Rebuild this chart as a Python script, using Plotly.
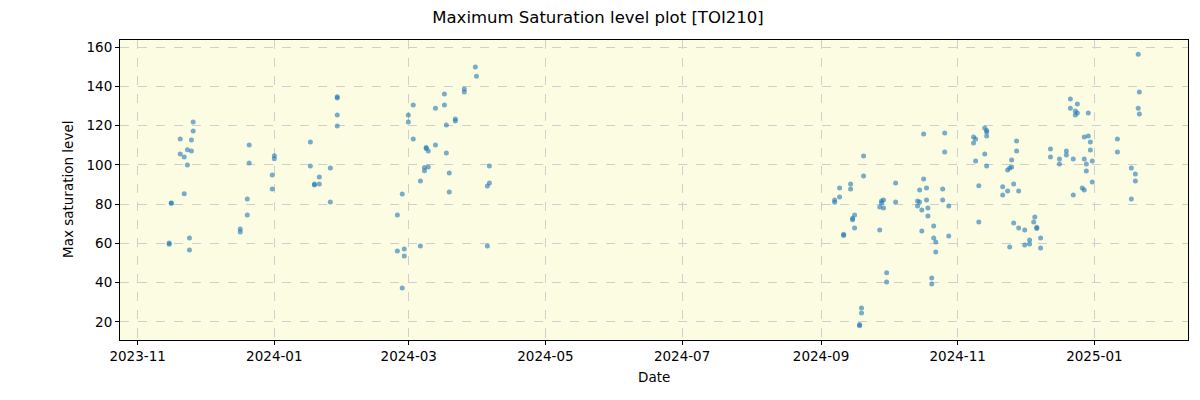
import plotly.graph_objects as go

# ---- data ----
dates_2023 = [
    "2023-11-25 19:00", "2023-11-25 19:00",
    "2023-11-20 00:00", "2023-11-20 00:00",
    "2023-11-25 00:00", "2023-11-25 00:00",
    "2023-11-23 05:00", "2023-11-23 05:00",
    "2023-11-21 19:00", "2023-11-21 19:00",
    "2023-11-16 00:00", "2023-11-16 00:00",
    "2023-11-24 03:00", "2023-11-24 03:00",
    "2023-11-15 02:00", "2023-11-15 02:00",
    "2023-12-20 19:00", "2023-12-20 19:00",
    "2023-12-19 22:00", "2023-12-19 22:00",
    "2023-12-16 19:00", "2023-12-16 19:00",
    "2024-01-01 00:00", "2024-01-01 00:00",
    "2023-12-31 02:00", "2023-12-31 02:00",
    "2024-01-17 02:00", "2024-01-17 02:00",
    "2024-01-21 02:00", "2024-01-21 02:00",
    "2024-01-18 22:00", "2024-01-18 22:00",
    "2024-01-26 00:00", "2024-01-26 00:00",
    "2024-01-29 02:00", "2024-01-29 02:00", "2024-01-29 02:00", "2024-01-29 02:00",
]
values_2023 = [
    121.8, 117.2,
    113.2, 105.5,
    112.7, 107.1,
    107.7, 99.9,
    104.0, 85.3,
    80.6, 80.4,
    62.8, 56.7,
    60.2, 59.6,
    110.1, 100.9,
    82.6, 74.5,
    67.3, 65.8,
    104.7, 103.1,
    94.8, 87.7,
    111.6, 99.4,
    93.8, 90.3,
    90.2, 89.8,
    98.4, 81.1,
    134.7, 134.0, 125.4, 119.8,
]

dates_2024a = [
    "2024-03-30 17:00", "2024-03-31 05:00",
    "2024-03-16 22:00", "2024-03-16 22:00",
    "2024-03-25 19:00", "2024-03-25 19:00",
    "2024-03-03 00:00", "2024-03-03 00:00",
    "2024-03-12 22:00", "2024-03-12 22:00",
    "2024-02-29 19:00", "2024-02-29 19:00",
    "2024-03-21 19:00", "2024-03-21 19:00",
    "2024-03-17 19:00", "2024-03-17 19:00",
    "2024-03-08 19:00", "2024-03-08 19:00",
    "2024-03-09 17:00", "2024-03-09 17:00",
    "2024-03-08 00:00", "2024-03-08 00:00",
    "2024-04-06 00:00", "2024-04-06 00:00",
    "2024-03-19 02:00", "2024-03-19 02:00",
    "2024-03-06 05:00", "2024-03-06 05:00",
    "2024-04-05 02:00", "2024-04-05 02:00",
    "2024-02-27 02:00", "2024-02-27 02:00",
    "2024-02-24 22:00", "2024-02-24 22:00",
    "2024-02-28 00:00", "2024-02-28 00:00",
]
values_2024a = [
    149.8, 145.2,
    136.1, 130.5,
    138.6, 137.1,
    130.5, 113.2,
    128.9, 110.1,
    125.4, 121.8,
    123.3, 122.3,
    120.3, 106.0,
    108.9, 108.4,
    107.1, 98.9,
    98.6, 97.0,
    99.4, 90.8,
    95.9, 86.2,
    91.8, 58.7,
    89.2, 58.7,
    85.2, 37.3,
    74.5, 56.1,
    57.2, 53.6,
]

dates_2024b = [
    "2024-10-16 19:00", "2024-10-16 19:00",
    "2024-10-26 05:00", "2024-10-26 05:00",
    "2024-09-20 00:00", "2024-09-20 00:00",
    "2024-10-04 07:00", "2024-10-04 07:00",
    "2024-09-14 05:00", "2024-09-14 05:00",
    "2024-09-09 07:00", "2024-09-09 07:00",
    "2024-10-18 02:00", "2024-10-18 02:00",
    "2024-10-15 00:00", "2024-10-15 00:00",
    "2024-10-25 07:00", "2024-10-25 07:00",
    "2024-09-07 02:00", "2024-09-07 02:00",
    "2024-09-28 22:00", "2024-09-28 22:00",
    "2024-09-28 00:00", "2024-09-28 00:00",
    "2024-09-27 05:00", "2024-09-27 05:00",
    "2024-10-14 02:00", "2024-10-14 02:00",
    "2024-10-28 00:00", "2024-10-28 00:00",
    "2024-10-16 00:00", "2024-10-16 00:00",
    "2024-10-18 17:00", "2024-10-18 17:00",
    "2024-09-16 00:00", "2024-09-16 00:00",
    "2024-09-15 02:00", "2024-09-15 02:00",
    "2024-10-21 07:00", "2024-10-21 07:00",
    "2024-09-11 02:00", "2024-09-11 02:00",
    "2024-10-22 05:00", "2024-10-22 05:00",
    "2024-09-30 07:00", "2024-09-30 07:00",
    "2024-10-20 10:00", "2024-10-20 10:00",
    "2024-09-19 02:00", "2024-09-19 02:00",
    "2024-09-18 05:00", "2024-09-18 05:00",
]
values_2024b = [
    115.7, 92.8,
    116.2, 106.5,
    104.5, 94.3,
    90.8, 81.1,
    90.3, 87.7,
    88.2, 83.6,
    88.2, 82.1,
    87.2, 81.1,
    87.7, 82.1,
    82.1, 80.9,
    82.1, 78.0,
    81.6, 80.6,
    78.5, 66.8,
    81.6, 79.1,
    79.1, 63.8,
    77.0, 66.3,
    78.0, 74.0,
    74.5, 67.9,
    72.8, 72.0,
    68.9, 62.8,
    64.6, 64.0,
    60.7, 55.6,
    45.0, 40.4,
    42.4, 39.3,
    27.1, 24.6,
    18.7, 18.0,
]

dates_2024c = [
    "2024-11-13 02:00", "2024-11-13 02:00",
    "2024-11-13 22:00", "2024-11-13 22:00", "2024-11-13 22:00", "2024-11-13 22:00",
    "2024-11-08 02:00", "2024-11-08 02:00",
    "2024-11-09 00:00", "2024-11-09 00:00",
    "2024-11-27 07:00", "2024-11-27 07:00",
    "2024-11-25 02:00", "2024-11-25 02:00",
    "2024-11-24 05:00", "2024-11-24 05:00",
    "2024-11-23 07:00", "2024-11-23 07:00",
    "2024-11-10 10:00", "2024-11-10 10:00",
    "2024-11-21 02:00", "2024-11-21 02:00",
    "2024-11-26 00:00", "2024-11-26 00:00",
    "2024-11-28 05:00", "2024-11-28 05:00",
    "2024-11-30 22:00", "2024-11-30 22:00",
    "2024-12-04 22:00", "2024-12-05 10:00",
    "2024-12-06 07:00", "2024-12-06 07:00",
    "2024-12-03 02:00", "2024-12-03 02:00",
    "2024-12-08 00:00", "2024-12-08 00:00",
]
values_2024c = [
    118.8, 105.5,
    117.5, 116.8, 114.7, 99.4,
    114.2, 111.1,
    113.2, 102.0,
    112.1, 107.1,
    102.5, 98.9,
    98.4, 58.2,
    97.4, 86.7,
    89.4, 70.9,
    88.9, 84.7,
    90.3, 70.4,
    86.7, 67.9,
    66.8, 59.2,
    70.9, 73.5,
    68.2, 67.6,
    61.7, 59.7,
    62.8, 57.7,
]

dates_2025 = [
    "2025-01-20 14:00", "2025-01-20 14:00",
    "2025-01-21 02:00", "2025-01-21 02:00",
    "2024-12-21 07:00", "2024-12-21 07:00",
    "2024-12-24 10:00", "2024-12-24 10:00",
    "2024-12-23 12:00", "2024-12-23 12:00",
    "2024-12-29 07:00", "2024-12-29 07:00",
    "2024-12-27 12:00", "2024-12-27 12:00", "2024-12-27 12:00",
    "2024-12-30 05:00", "2024-12-30 05:00",
    "2024-12-31 02:00", "2024-12-31 02:00",
    "2024-12-28 10:00", "2024-12-28 10:00",
    "2024-12-26 14:00",
    "2024-12-22 14:00", "2024-12-22 14:00",
    "2024-12-12 10:00", "2024-12-12 10:00",
    "2024-12-19 12:00", "2024-12-19 12:00",
    "2024-12-16 10:00", "2024-12-16 10:00",
    "2025-01-11 07:00", "2025-01-11 07:00",
    "2025-01-17 12:00", "2025-01-17 12:00",
    "2025-01-19 07:00", "2025-01-19 07:00",
]
values_2025 = [
    156.4, 128.9,
    137.1, 125.9,
    133.5, 128.9,
    131.0, 126.4,
    127.4, 125.4,
    126.4, 114.7,
    114.2, 103.0, 87.2,
    111.6, 107.6,
    102.0, 91.3,
    100.4, 96.9,
    88.2,
    84.7, 103.0,
    108.1, 104.0,
    107.1, 105.0,
    103.0, 100.4,
    113.2, 106.5,
    98.4, 82.6,
    95.3, 91.8,
]

dates = dates_2023 + dates_2024a + dates_2024b + dates_2024c + dates_2025
values = values_2023 + values_2024a + values_2024b + values_2024c + values_2025

title_text = "Maximum Saturation level plot [TOI210]"
x_label = "Date"
y_label = "Max saturation level"
y_ticks = [20, 40, 60, 80, 100, 120, 140, 160]

FONT = "DejaVu Sans, Liberation Sans, sans-serif"
TICK_SIZE = 13.5
TITLE_SIZE = 16.5

# the page body adds an 8px offset; the figure is sized to compensate
W, H = 1192, 392
ML, MR, MT, MB = 112, 12, 32, 60
PW, PH = W - ML - MR, H - MT - MB

fig = go.Figure()
fig.add_trace(go.Scatter(
    x=dates, y=values, mode="markers",
    marker=dict(size=5, color="rgba(31,119,180,0.6)", line=dict(width=0)),
    showlegend=False,
))

fig.update_layout(
    width=W, height=H,
    margin=dict(l=ML, r=MR, t=MT, b=MB, autoexpand=False),
    paper_bgcolor="white",
    plot_bgcolor="#fcfce3",
    font=dict(family=FONT, size=TICK_SIZE, color="black"),
    title=dict(text=title_text, x=590 / W, xref="container", xanchor="center",
               y=1 - 9 / H, yref="container", yanchor="middle",
               font=dict(family=FONT, size=TITLE_SIZE, color="black")),
    annotations=[
        dict(text=x_label, xref="paper", yref="paper", x=0.5, y=-27 / PH,
             xanchor="center", yanchor="top", showarrow=False,
             font=dict(family=FONT, size=TICK_SIZE, color="black")),
        dict(text=y_label, xref="paper", yref="paper", x=-42 / PW, y=0.5,
             xanchor="right", yanchor="middle", showarrow=False, textangle=-90,
             font=dict(family=FONT, size=TICK_SIZE, color="black")),
    ],
)

fig.update_xaxes(
    type="date",
    range=["2023-10-24 03:00", "2025-02-11 19:00"],
    tick0="2023-11-01", dtick="M2", tickformat="%Y-%m",
    ticks="outside", ticklen=4, tickcolor="black", tickwidth=1,
    showline=True, linecolor="black", linewidth=1, mirror=True,
    showgrid=True, gridcolor="#cfcfcf", griddash="dash", gridwidth=1,
    zeroline=False,
    tickfont=dict(family=FONT, size=TICK_SIZE, color="black"),
)
fig.update_yaxes(
    range=[10.8, 163.6],
    tickvals=y_ticks,
    ticks="outside", ticklen=4, tickcolor="black", tickwidth=1,
    showline=True, linecolor="black", linewidth=1, mirror=True,
    showgrid=True, gridcolor="#cfcfcf", griddash="dash", gridwidth=1,
    zeroline=False,
    tickfont=dict(family=FONT, size=TICK_SIZE, color="black"),
)

fig.write_html("out.html")
